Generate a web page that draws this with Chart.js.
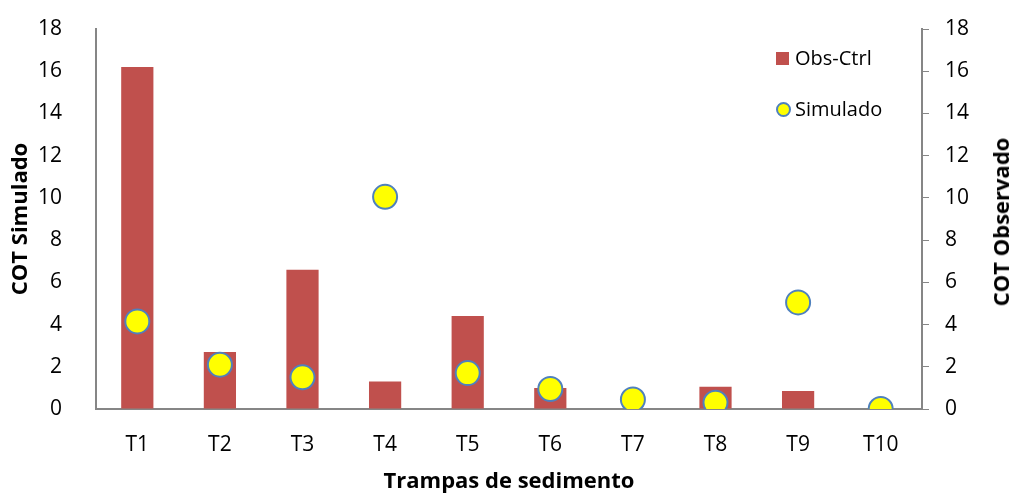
<!DOCTYPE html>
<html>
<head>
<meta charset="utf-8">
<script src="https://cdn.jsdelivr.net/npm/chart.js@4/dist/chart.umd.min.js"></script>
<style>
 body{margin:0;background:#fff;}
 #wrap{position:relative;width:1011px;height:495px;}
 #legend{position:absolute;left:776px;top:44px;font-family:"Open Sans",sans-serif;font-size:20px;color:#000;}
 #legend div{position:relative;height:28px;line-height:28px;padding-left:19px;white-space:nowrap;}
 #legend .sq{position:absolute;left:0;top:8px;width:13px;height:13px;background:#C0504D;}
 #legend .ci{position:absolute;left:0;top:7px;width:11px;height:11px;border-radius:50%;background:#FFFF00;border:2px solid #4F81BD;}
 #ytitle2{position:absolute;left:1000px;top:222px;transform:translate(-50%,-50%) rotate(-90deg);font-family:"Open Sans",sans-serif;font-size:22px;font-weight:bold;color:#000;white-space:nowrap;}
</style>
</head>
<body>
<div id="wrap">
 <canvas id="chart" width="1011" height="495"></canvas>
 <div id="legend">
  <div><span class="sq"></span>Obs-Ctrl</div>
  <div style="margin-top:23px"><span class="ci"></span>Simulado</div>
 </div>
 <div id="ytitle2">COT Observado</div>
</div>
<script>
// data
var categories=["T1","T2","T3","T4","T5","T6","T7","T8","T9","T10"];
var obs_ctrl=[16.2,2.7,6.6,1.3,4.4,1.0,0,1.05,0.85,0];
var simulado=[4.15,2.1,1.5,10.05,1.7,0.95,0.45,0.3,5.05,0];
var y_min=0,y_max=18,y_step=2;

var axis_color="#868686";
var tick_font={family:"'Open Sans', sans-serif",size:21};
var title_font={family:"'Open Sans', sans-serif",size:22,weight:"bold"};

// fixed axis sizes, no extra padding from tick labels
function fix_y(width){
 return function(s){s.width=width;s.paddingTop=0;s.paddingBottom=0;};
}

var ctx=document.getElementById("chart").getContext("2d");
var myChart=new Chart(ctx,{
 type:"bar",
 data:{
  labels:categories,
  datasets:[
   {
    type:"line",
    label:"Simulado",
    data:simulado,
    yAxisID:"y",
    showLine:false,
    pointRadius:12,
    pointHoverRadius:12,
    pointBackgroundColor:"#FFFF00",
    pointBorderColor:"#4F81BD",
    pointBorderWidth:2,
    order:0
   },
   {
    label:"Obs-Ctrl",
    data:obs_ctrl,
    yAxisID:"y1",
    backgroundColor:"#C0504D",
    borderWidth:0,
    barPercentage:0.39,
    categoryPercentage:1,
    order:1
   }
  ]
 },
 options:{
  responsive:false,
  animation:false,
  layout:{padding:{top:29,left:0,right:0,bottom:0}},
  plugins:{legend:{display:false},tooltip:{enabled:false}},
  scales:{
   x:{
    grid:{display:false},
    border:{display:true,color:axis_color,width:2},
    ticks:{color:"#000",font:tick_font,padding:15},
    title:{display:true,text:"Trampas de sedimento",color:"#000",font:title_font,padding:{top:0,bottom:0}},
    afterFit:function(s){s.height=86;}
   },
   y:{
    position:"left",
    min:y_min,max:y_max,
    grid:{display:false},
    border:{display:true,color:axis_color,width:2},
    ticks:{stepSize:y_step,color:"#000",font:tick_font,padding:26},
    title:{display:true,text:"COT Simulado",color:"#000",font:title_font,padding:{top:8,bottom:0}},
    afterFit:fix_y(96)
   },
   y1:{
    position:"right",
    min:y_min,max:y_max,
    grid:{display:true,drawOnChartArea:false,drawTicks:true,tickLength:7,color:axis_color,lineWidth:1},
    border:{display:true,color:axis_color,width:2},
    ticks:{stepSize:y_step,color:"#000",font:tick_font,padding:16},
    afterFit:fix_y(89)
   }
  }
 }
});
</script>
</body>
</html>
